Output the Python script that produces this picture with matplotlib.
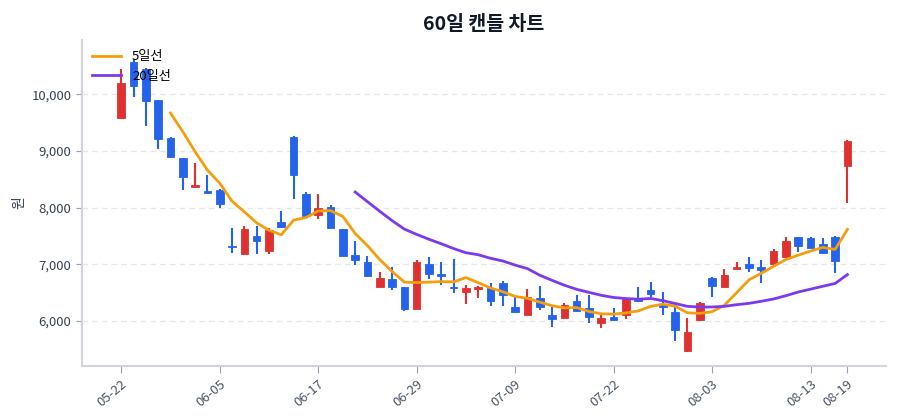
import matplotlib
matplotlib.use("Agg")
import matplotlib.pyplot as plt
import numpy as np
import pandas as pd

plt.rcParams['font.family'] = ['Noto Sans CJK KR', 'DejaVu Sans']

dates = ["05-22", "05-23", "05-26", "05-27", "05-28", "05-29", "05-30", "06-02", "06-05", "06-06",
         "06-09", "06-10", "06-11", "06-12", "06-13", "06-16", "06-17", "06-18", "06-19", "06-20",
         "06-23", "06-24", "06-25", "06-26", "06-29", "06-30", "07-01", "07-02", "07-03", "07-06",
         "07-07", "07-08", "07-09", "07-10", "07-13", "07-14", "07-15", "07-16", "07-17", "07-20",
         "07-22", "07-23", "07-24", "07-27", "07-28", "07-29", "07-30", "07-31", "08-03", "08-04",
         "08-05", "08-06", "08-07", "08-10", "08-11", "08-12", "08-13", "08-14", "08-18", "08-19"]

opens = [9577, 10575, 10441, 9894, 9234, 8876, 8360, 8294, 8306, 7312,
         7178, 7500, 7236, 7742, 9241, 8241, 7871, 8007, 7618, 7166,
         7036, 6589, 6737, 6596, 6207, 7006, 6825, 6600, 6518, 6566,
         6578, 6677, 6253, 6107, 6412, 6107, 6054, 6350, 6236, 5961,
         6060, 6095, 6401, 6548, 6283, 6165, 5460, 6019, 6760, 6595,
         6913, 7006, 6959, 7006, 7124, 7477, 7460, 7354, 7488, 8735]
highs = [10441, 10620, 10460, 9900, 9250, 8880, 8783, 8576, 8320, 7636,
         7682, 7682, 7636, 7947, 9264, 8282, 8236, 8050, 7630, 7412,
         7153, 6860, 6945, 6600, 7077, 7135, 7047, 7089, 6636, 6618,
         6666, 6712, 6430, 6560, 6624, 6253, 6324, 6460, 6460, 6107,
         6236, 6390, 6592, 6683, 6507, 6243, 6048, 6341, 6780, 6918,
         7047, 7135, 7077, 7266, 7488, 7480, 7488, 7460, 7495, 9190]
lows = [9570, 9958, 9430, 9040, 8890, 8312, 8350, 8250, 8000, 7206,
        7178, 7183, 7178, 7660, 8148, 7850, 7790, 7636, 7148, 6980,
        6783, 6589, 6548, 6172, 6207, 6737, 6636, 6490, 6295, 6401,
        6265, 6271, 6150, 6107, 6195, 5890, 6054, 6148, 5961, 5872,
        6000, 6036, 6341, 6419, 6107, 5650, 5455, 5990, 6430, 6595,
        6889, 6871, 6666, 7006, 7124, 7224, 7290, 7200, 6853, 8088]
closes = [10194, 10146, 9887, 9206, 8899, 8547, 8390, 8254, 8060, 7300,
          7618, 7412, 7606, 7665, 8582, 7853, 7989, 7640, 7150, 7078,
          6785, 6754, 6596, 6207, 7036, 6825, 6800, 6575, 6583, 6589,
          6359, 6465, 6160, 6419, 6253, 6036, 6283, 6180, 6077, 6048,
          6010, 6384, 6359, 6477, 6243, 5836, 5798, 6307, 6624, 6812,
          6948, 6930, 6889, 7236, 7412, 7330, 7294, 7206, 7065, 9182]

tick_labels = ["05-22", "06-05", "06-17", "06-29", "07-09", "07-22", "08-03", "08-13", "08-19"]

UP = "#e03131"
DOWN = "#2563eb"
MA5_C = "#f59e0b"
MA20_C = "#7c3aed"

df = pd.DataFrame({"open": opens, "high": highs, "low": lows, "close": closes}, index=dates)
x = np.arange(len(df))
ma5 = df["close"].rolling(5).mean()
ma20 = df["close"].rolling(20).mean()

fig = plt.figure(figsize=(9, 4.2), dpi=100)
ax = fig.add_axes([0.091, 0.129, 0.893, 0.776])

up = df["close"] >= df["open"]
colors = np.where(up, UP, DOWN)
ax.vlines(x, df["low"], df["high"], colors=colors, linewidth=1.5, zorder=2)
body_bottom = np.minimum(df["open"], df["close"])
body_h = np.maximum(np.abs(df["close"] - df["open"]), 15)
ax.bar(x, body_h, bottom=body_bottom, width=0.62, color=colors, edgecolor=colors,
       linewidth=0.6, zorder=3)

ax.plot(x, ma5, color=MA5_C, linewidth=2, label="5일선", zorder=4)
ax.plot(x, ma20, color=MA20_C, linewidth=2, label="20일선", zorder=4)

ax.set_xlim(-3.2, 62.1)
ax.set_ylim(5207, 10958)
ax.set_yticks([6000, 7000, 8000, 9000, 10000])
ax.yaxis.set_major_formatter(matplotlib.ticker.FuncFormatter(lambda v, p: f"{int(v):,}"))
ax.grid(axis="y", color="#e5e7eb", linestyle=(0, (4, 3)), linewidth=1)
ax.set_axisbelow(True)

tick_pos = [dates.index(t) for t in tick_labels]
ax.set_xticks(tick_pos)
ax.set_xticklabels(tick_labels, rotation=40, ha="right", rotation_mode="anchor",
                   fontsize=9.5, color="#4b5563")
ax.tick_params(axis="y", labelsize=9.5, labelcolor="#374151", color="#9ca3af", length=4)
ax.tick_params(axis="x", color="#9ca3af", length=5)

for s in ["top", "right"]:
    ax.spines[s].set_visible(False)
for s in ["left", "bottom"]:
    ax.spines[s].set_color("#d1d5db")
    ax.spines[s].set_linewidth(1.5)

ax.set_ylabel("원", fontsize=10, color="#374151", labelpad=4)
ax.set_title("60일 캔들 차트", fontsize=14, fontweight="bold", color="#111827", pad=7)

leg = ax.legend(loc="upper left", frameon=False, fontsize=9.5, handlelength=2.2,
                borderaxespad=0.4, labelspacing=0.5)

fig.savefig("out.png", dpi=100)
